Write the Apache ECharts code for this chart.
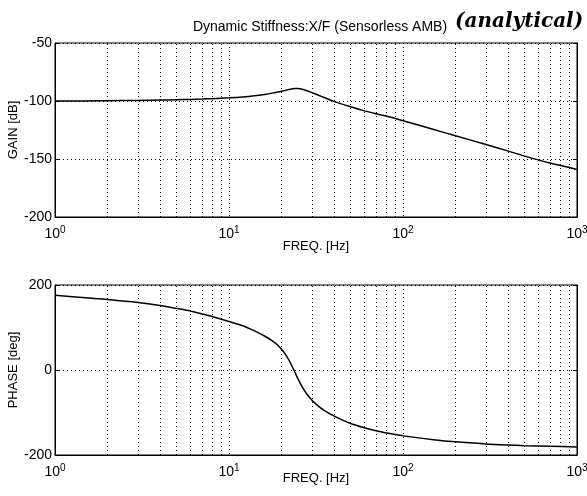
<!DOCTYPE html>
<html>
<head>
<meta charset="utf-8">
<script src="https://cdn.jsdelivr.net/npm/echarts@6/dist/echarts.min.js"></script>
<style>
html,body{margin:0;padding:0;background:#fff;}
#c{width:587px;height:496px;}
</style>
</head>
<body>
<div id="c"></div>
<script>
// Frequencies (Hz)
var freqs = [1, 1.5, 2, 3, 4, 5, 6, 7, 8, 10, 12, 14, 16, 18, 19, 20, 21, 22, 23, 24, 25, 26, 27, 28, 30, 32, 35, 40, 50, 60, 70, 80, 100, 150, 200, 300, 400, 500, 700, 1000];
// Gain (dB)
var gain = [-100, -99.9, -99.8, -99.5, -99.2, -98.9, -98.6, -98.3, -98, -97.3, -96.5, -95.5, -94.3, -93, -92.3, -91.6, -90.9, -90.2, -89.6, -89.2, -89.2, -89.6, -90.3, -91.1, -92.8, -94.4, -96.8, -100.3, -105, -108.5, -111, -113, -117, -124.5, -130, -137.5, -143, -147.5, -153.5, -159];
// Phase (deg)
var phase = [176, 170, 166, 159, 152, 145, 139, 132, 126, 114, 104, 92, 80, 67, 59, 49.5, 38, 25, 9.5, -6.5, -22, -35.5, -47, -56.5, -71, -82, -94.5, -108, -126, -136, -143, -148, -155, -164, -169, -174, -176.5, -178, -179.5, -181];
// Minor grid frequencies
var minorGrid = [2,3,4,5,6,7,8,9,20,30,40,50,60,70,80,90,200,300,400,500,600,700,800,900];
// Tick labels
var gainTicks = [-200, -150, -100, -50];
var phaseTicks = [-200, 0, 200];

var FONT = 'Liberation Sans';
function pairs(ys){ return freqs.map(function(f,i){ return [f, ys[i]]; }); }
var dotted = {color:'#000', width:1, type:[1,3]};
var minorLines = {
  silent:true, symbol:'none', animation:false,
  label:{show:false},
  lineStyle:dotted,
  data: minorGrid.map(function(v){ return {xAxis:v}; })
};
function xAx(gi, gap){
  return {
    type:'log', logBase:10, min:1, max:1000, gridIndex:gi,
    name:'FREQ. [Hz]', nameLocation:'middle', nameGap:gap, nameMoveOverlap:false,
    nameTextStyle:{color:'#000', fontFamily:FONT, fontSize:13, verticalAlign:'top'},
    axisLine:{show:true, onZero:false, lineStyle:{color:'#000', width:1}},
    axisTick:{show:false},
    splitLine:{show:true, lineStyle:dotted},
    axisLabel:{
      color:'#000', margin:8,
      formatter:function(v){ return '{b|10}{s|' + Math.round(Math.log10(v)) + '}'; },
      rich:{
        b:{fontFamily:FONT, fontSize:14, color:'#000'},
        s:{fontFamily:FONT, fontSize:10, color:'#000', padding:[0,0,9,0]}
      }
    }
  };
}
function yAx(gi, min, max, interval, name, gap){
  return {
    type:'value', gridIndex:gi, min:min, max:max, interval:interval,
    name:name, nameLocation:'middle', nameGap:gap, nameMoveOverlap:false,
    nameTextStyle:{color:'#000', fontFamily:FONT, fontSize:13},
    axisLine:{show:true, onZero:false, lineStyle:{color:'#000', width:1}},
    axisTick:{show:true, inside:true, length:4, lineStyle:{color:'#000'}},
    splitLine:{show:true, lineStyle:dotted},
    axisLabel:{color:'#000', fontFamily:FONT, fontSize:14, margin:3}
  };
}
function yRight(gi, min, max, interval){
  return {
    type:'value', gridIndex:gi, min:min, max:max, interval:interval, position:'right',
    axisLine:{show:true, onZero:false, lineStyle:{color:'#000', width:1}},
    axisTick:{show:true, inside:true, length:4, lineStyle:{color:'#000'}},
    splitLine:{show:false}, axisLabel:{show:false}
  };
}

var chart = echarts.init(document.getElementById('c'));
chart.setOption({
  animation:false,
  backgroundColor:'#fff',
  grid:[
    {left:55, right:10, top:43, height:174, show:true, borderColor:'#000', borderWidth:1, containLabel:false, outerBoundsMode:'none'},
    {left:55, right:10, top:285, height:170, show:true, borderColor:'#000', borderWidth:1, containLabel:false, outerBoundsMode:'none'}
  ],
  xAxis:[xAx(0, 23), xAx(1, 17)],
  yAxis:[
    yAx(0, gainTicks[0], gainTicks[gainTicks.length-1], 50, 'GAIN [dB]', 35),
    yAx(1, phaseTicks[0], phaseTicks[phaseTicks.length-1], 200, 'PHASE [deg]', 35),
    yRight(0, gainTicks[0], gainTicks[gainTicks.length-1], 50),
    yRight(1, phaseTicks[0], phaseTicks[phaseTicks.length-1], 200)
  ],
  graphic:[
    {type:'text', x:320, y:27, style:{text:'Dynamic Stiffness:X/F (Sensorless AMB)', fontFamily:FONT, fontSize:14, fill:'#000', align:'center', verticalAlign:'middle'}},
    {type:'text', x:455, y:22, style:{text:'(analytical)', fontFamily:'DejaVu Serif', fontStyle:'italic', fontWeight:'bold', fontSize:20, fill:'#000', align:'left', verticalAlign:'middle'}}
  ],
  series:[
    {type:'line', xAxisIndex:0, yAxisIndex:0, data:pairs(gain), smooth:0.3, showSymbol:false, symbol:'none',
     lineStyle:{color:'#000', width:1.5}, markLine:minorLines},
    {type:'line', xAxisIndex:1, yAxisIndex:1, data:pairs(phase), smooth:0.3, showSymbol:false, symbol:'none',
     lineStyle:{color:'#000', width:1.5}, markLine:minorLines}
  ]
});
</script>
</body>
</html>
